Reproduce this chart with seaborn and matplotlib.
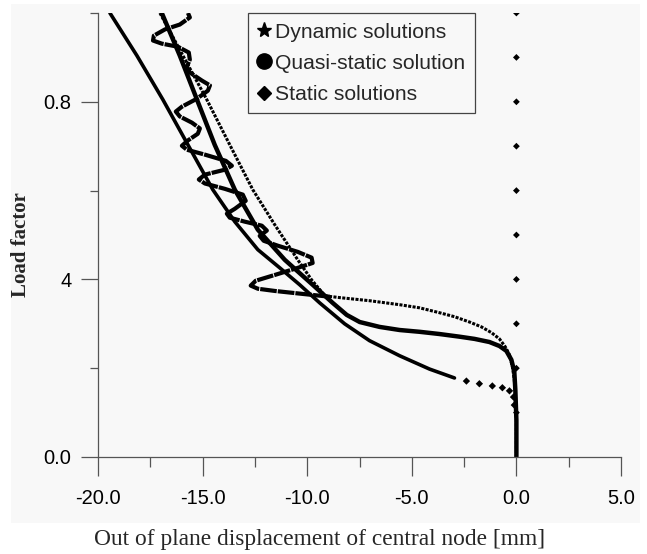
import matplotlib
matplotlib.use("Agg")
import matplotlib.pyplot as plt
from matplotlib.lines import Line2D
from matplotlib.patches import Rectangle
import pandas as pd
import seaborn as sns

# Static equilibrium path (post-buckling branch), densely computed part
static_x = [-19.43, -18.14, -16.90, -15.70, -14.51, -13.46, -12.36, -11.31, -10.36, -9.40, -8.21, -7.02, -5.58, -4.15, -2.96]
static_y = [1.00, 0.904, 0.805, 0.703, 0.602, 0.530, 0.467, 0.426, 0.388, 0.347, 0.300, 0.262, 0.228, 0.198, 0.178]
# Sparse static points near the limit point
static_tail_x = [-2.39, -1.77, -1.15, -0.67, -0.33, -0.14, -0.10]
static_tail_y = [0.171, 0.165, 0.160, 0.156, 0.149, 0.135, 0.117]
# Static solutions on the fundamental (unbuckled) path
fund_x = [0.0] * 10
fund_y = [0.1, 0.2, 0.3, 0.4, 0.5, 0.6, 0.7, 0.8, 0.9, 1.0]

# Quasi-static solution
quasi_x = [-16.95, -16.09, -15.27, -14.42, -13.46, -12.36, -11.07, -9.74, -8.78, -8.11, -7.49, -6.54, -5.58,
           -4.63, -3.68, -2.72, -2.00, -1.29, -0.81, -0.48, -0.24, -0.10, -0.05, 0.0, 0.0]
quasi_y = [1.00, 0.904, 0.805, 0.703, 0.602, 0.512, 0.444, 0.388, 0.347, 0.320, 0.304, 0.293, 0.286,
           0.282, 0.277, 0.271, 0.266, 0.259, 0.250, 0.239, 0.219, 0.192, 0.151, 0.083, 0.0]

# Dynamic solution, slow loading
dyn_slow_x = [-17.04, -15.94, -14.80, -13.70, -12.60, -11.55, -10.45, -9.79, -9.40, -9.16, -8.45, -7.02, -5.58,
              -4.63, -3.68, -2.96, -2.24, -1.67, -1.19, -0.81, -0.53, -0.33, -0.19, -0.10, -0.05, 0.0, 0.0]
dyn_slow_y = [1.00, 0.904, 0.805, 0.703, 0.602, 0.523, 0.444, 0.399, 0.377, 0.363, 0.359, 0.352, 0.343,
              0.336, 0.325, 0.316, 0.304, 0.293, 0.280, 0.266, 0.248, 0.230, 0.203, 0.174, 0.140, 0.083, 0.0]

# Dynamic solution, fast loading (oscillating about the post-buckling path)
dyn_fast_x = [-8.93, -10.36, -11.55, -12.36, -12.70, -12.46, -11.55, -10.45, -9.74, -9.79, -10.45, -11.41,
              -12.08, -12.27, -11.93, -12.17, -12.98, -13.70, -13.84, -13.46, -12.94, -13.08, -13.94, -14.89,
              -15.18, -14.89, -13.94, -13.60, -13.89, -14.89, -15.75, -15.99, -15.70, -15.23, -15.13, -15.51,
              -16.09, -16.28, -15.99, -15.27, -14.75, -14.65, -15.04, -15.61, -15.75, -15.61, -15.66, -16.18,
              -16.95, -17.37, -17.33, -16.80, -16.09, -15.61, -15.70]
dyn_fast_y = [0.361, 0.368, 0.374, 0.379, 0.386, 0.397, 0.410, 0.426, 0.437, 0.449, 0.462, 0.476,
              0.487, 0.498, 0.510, 0.521, 0.530, 0.539, 0.548, 0.559, 0.577, 0.591, 0.604, 0.616,
              0.625, 0.636, 0.647, 0.656, 0.667, 0.681, 0.692, 0.701, 0.713, 0.728, 0.740, 0.753,
              0.767, 0.778, 0.789, 0.807, 0.825, 0.837, 0.848, 0.866, 0.879, 0.895, 0.911, 0.924,
              0.931, 0.938, 0.949, 0.963, 0.974, 0.990, 1.00]

x_major = [-20, -15, -10, -5, 0, 5]
x_major_labels = ["-20.0", "-15.0", "-10.0", "-5.0", "0.0", "5.0"]
x_minor = [-17.5, -12.5, -7.5, -2.5, 2.5]
y_major = [0.0, 0.4, 0.8]
y_major_labels = ["0.0", "4", "0.8"]
y_minor = [0.2, 0.6, 1.0]

legend_labels = ["Dynamic solutions", "Quasi-static solution", "Static solutions"]

sns.set_theme(style="white")
plt.rcParams["font.family"] = ["Liberation Sans", "DejaVu Sans"]

W, H = 647, 554
fig = plt.figure(figsize=(W / 100, H / 100), dpi=100)
fig.patch.set_facecolor("white")
fig.add_artist(Rectangle((11 / W, 31 / H), 629 / W, 519 / H, transform=fig.transFigure,
                         facecolor="#f8f8f8", edgecolor="none", zorder=0))

ax = fig.add_axes([98 / W, 97 / H, 523 / W, 444 / H])
ax.set_facecolor("none")

ink = "black"


def path(xs, ys, **kw):
    df = pd.DataFrame({"x": xs, "y": ys})
    sns.lineplot(data=df, x="x", y="y", sort=False, estimator=None, ax=ax,
                 color=ink, legend=False, **kw)


path(static_x, static_y, linewidth=2.6, solid_capstyle="round", solid_joinstyle="round")
path(quasi_x, quasi_y, linewidth=3.2, solid_capstyle="round", solid_joinstyle="round")
path(dyn_slow_x, dyn_slow_y, linewidth=2.2, linestyle=(0, (1.0, 0.45)))
path(dyn_fast_x, dyn_fast_y, linewidth=3.0, linestyle=(0, (4.0, 0.25)), dash_joinstyle="round")

sns.scatterplot(x=static_tail_x, y=static_tail_y, marker="D", s=14, color=ink,
                edgecolor="none", ax=ax, legend=False)
sns.scatterplot(x=fund_x, y=fund_y, marker="D", s=12, color=ink,
                edgecolor="none", ax=ax, legend=False)

ax.set_xlim(-20, 5)
ax.set_ylim(0, 1.0)
ax.set_xlabel("")
ax.set_ylabel("")

for side in ("top", "right"):
    ax.spines[side].set_visible(False)
for side in ("left", "bottom"):
    ax.spines[side].set_color("#555555")
    ax.spines[side].set_linewidth(0.9)

ax.set_xticks(x_major)
ax.set_xticklabels(x_major_labels)
ax.set_xticks(x_minor, minor=True)
ax.set_yticks(y_major)
ax.set_yticklabels(y_major_labels)
ax.set_yticks(y_minor, minor=True)

ax.tick_params(axis="x", which="major", direction="out", length=14, width=0.9,
               color="#555555", pad=9, labelsize=14.5, labelcolor="black", bottom=True)
ax.tick_params(axis="x", which="minor", direction="out", length=7, width=0.9,
               color="#555555", bottom=True)
ax.tick_params(axis="y", which="major", direction="out", length=12, width=0.9,
               color="#555555", pad=7, labelsize=14.5, labelcolor="black", left=True)
ax.tick_params(axis="y", which="minor", direction="out", length=6, width=0.9,
               color="#555555", left=True)

handles = [
    Line2D([], [], linestyle="none", marker="*", markersize=11, color=ink),
    Line2D([], [], linestyle="none", marker="o", markersize=11, color=ink),
    Line2D([], [], linestyle="none", marker="D", markersize=7, color=ink),
]
leg = fig.legend(handles, legend_labels, loc="upper left",
                 bbox_to_anchor=(248 / W, 1 - 13 / H), bbox_transform=fig.transFigure,
                 fontsize=15.2, frameon=True, fancybox=False, framealpha=1,
                 handlelength=0.6, handletextpad=0.25, labelspacing=0.58,
                 borderpad=0.45, borderaxespad=0)
leg.get_frame().set_edgecolor("#444444")
leg.get_frame().set_linewidth(0.9)
leg.get_frame().set_facecolor("#f8f8f8")

fig.text(320 / W, 1 - 540 / H, "Out of plane displacement of central node [mm]",
         ha="center", va="center", fontsize=16.8, family=["Liberation Serif", "DejaVu Serif"])
fig.text(21 / W, 1 - 245 / H, "Load factor", rotation=90, ha="center", va="center",
         fontsize=15, fontweight="bold", family=["Liberation Serif", "DejaVu Serif"])

fig.savefig("out.png", dpi=100)
